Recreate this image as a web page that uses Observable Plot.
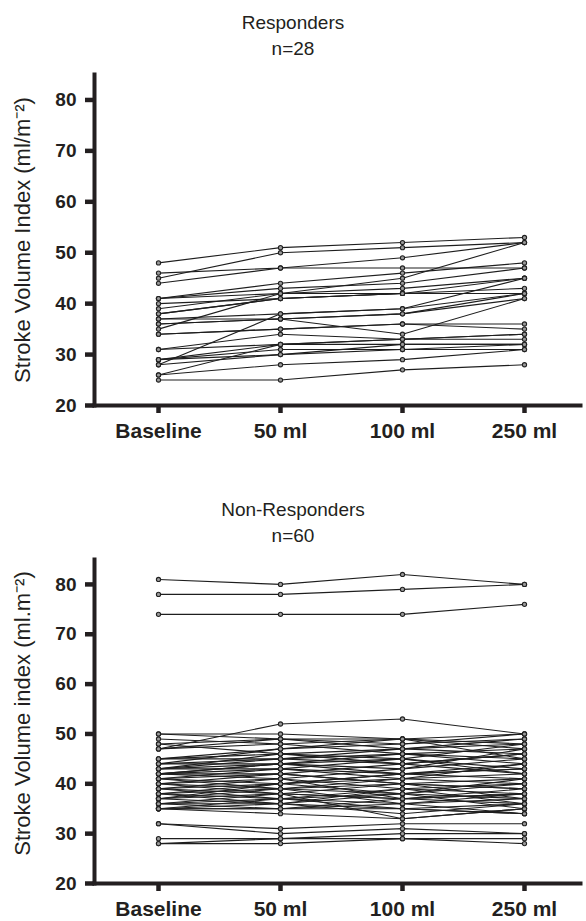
<!DOCTYPE html>
<html><head><meta charset="utf-8">
<script src="https://cdn.jsdelivr.net/npm/d3@7"></script>
<script src="https://cdn.jsdelivr.net/npm/@observablehq/plot@0.6"></script>
<style>
body{margin:0;background:#fff;font-family:"Liberation Sans",Arial,sans-serif;color:#231f20;}
#root{width:586px;}
.title{width:586px;text-align:center;font-size:19px;line-height:26px;}
svg{display:block}
</style></head><body><div id="root"></div>
<script>
const categories = ["Baseline", "50 ml", "100 ml", "250 ml"];
const yTicks = [20, 30, 40, 50, 60, 70, 80];

// Responders (n=28), one value per patient per column
const respBaseline = [48,45,46,44,41,41,41,39,38,40,35,37,36,37,28,34,34,31,31,29,29,28,26,26,25,29,38,36];
const resp50 = [51,50,47,47,44,42,43,42,41,41,42,38,37,37,38,35,35,34,32,32,31,30,32,28,25,30,41,37];
const resp100 = [52,51,49,47,46,45,44,43,42,42,42,39,38,34,39,36,36,33,32,33,31,32,33,29,27,31,42,38];
const resp250 = [53,52,52,47,48,52,47,45,43,42,45,45,42,41,42,36,35,34,32,33,31,32,34,31,28,32,42,41];

// Non-responders (n=60)
const nonBaseline = [81,78,74,47,50,49,48,47,47,45,45,44,44,43,43,43,42,42,42,41,41,41,40,40,40,39,39,39,38,38,38,37,37,37,36,36,36,35,35,35,35,32,32,29,28,28,50,48,45,44,43,42,41,39,37,36,35,38,40,42];
const non50 = [80,78,74,52,50,48,49,48,49,47,46,47,45,46,44,43,42,44,41,42,40,43,39,41,42,40,38,41,37,39,36,38,36,39,35,37,38,36,35,37,34,31,30,29,29,28,49,46,45,44,45,43,39,37,40,36,35,40,38,44];
const non100 = [82,79,74,53,49,49,48,46,49,48,44,49,47,45,43,41,44,42,43,40,42,45,41,39,40,38,40,37,39,36,38,37,39,38,37,35,33,34,36,38,33,32,31,30,29,29,47,47,46,46,44,42,40,36,41,35,35,42,37,45];
const non250 = [80,80,76,50,47,50,49,44,48,50,46,45,49,43,47,44,42,41,45,39,43,42,40,38,37,41,39,36,40,38,35,39,36,37,38,34,35,36,34,40,35,32,30,30,28,29,46,48,47,45,46,44,41,37,42,36,34,43,38,48];

function toLong(cols) {
  const rows = [];
  cols[0].forEach((_, i) => categories.forEach((c, j) => rows.push({id: i, time: c, value: cols[j][i]})));
  return rows;
}

const ink = "#231f20";
function panel(data, label, height, marginTop, marginBottom, labelDy) {
  return Plot.plot({
    width: 586, height, marginLeft: 94, marginRight: 6, marginTop, marginBottom,
    style: {fontFamily: '"Liberation Sans", Arial, sans-serif', color: ink, background: "white", overflow: "visible"},
    x: {type: "point", domain: categories, padding: 0.476, align: 0.53},
    y: {domain: [20, 85]},
    marks: [
      Plot.line(data, {x: "time", y: "value", z: "id", stroke: "#1e1e1e", strokeWidth: 1.1}),
      Plot.dot(data, {x: "time", y: "value", r: 2.1, stroke: "#222", fill: "#9a9a9a", strokeWidth: 1.1}),
      Plot.axisY({ticks: yTicks, tickSize: 9, tickPadding: 9, strokeWidth: 4.5, fontSize: 19, fontWeight: "bold", label: null}),
      Plot.axisX({tickSize: 8, tickPadding: 10, strokeWidth: 4.5, fontSize: 21, fontWeight: "bold", label: null}),
      Plot.frame({anchor: "left", stroke: ink, strokeWidth: 4}),
      Plot.frame({anchor: "bottom", stroke: ink, strokeWidth: 4}),
      Plot.text([label], {frameAnchor: "left", textAnchor: "middle", lineAnchor: "middle", dx: -72, dy: labelDy, rotate: -90, fontSize: 22, fill: ink, text: d => d})
    ]
  });
}

const root = document.getElementById("root");
function title(lines, pad) {
  const d = document.createElement("div");
  d.className = "title";
  d.style.paddingTop = pad + "px";
  d.innerHTML = lines.join("<br>");
  return d;
}
root.appendChild(title(["Responders", "n=28"], 10));
root.appendChild(panel(toLong([respBaseline, resp50, resp100, resp250]), "Stroke Volume Index (ml/m⁻²)", 398, 12, 55, 0));
root.appendChild(title(["Non-Responders", "n=60"], 37));
root.appendChild(panel(toLong([nonBaseline, non50, non100, non250]), "Stroke Volume index (ml.m⁻²)", 372, 10, 38, -8));
</script>
</body></html>
